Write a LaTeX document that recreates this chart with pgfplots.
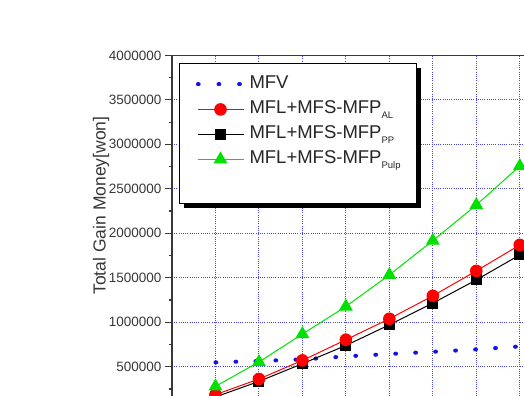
\documentclass[border=0pt]{standalone}
\usepackage{pgfplots}
\pgfplotsset{compat=1.18}
\usepackage{pgfplotstable}
\usepackage{fontspec}
\setmainfont{Liberation Sans}
\definecolor{gridblue}{RGB}{70,70,235}
\definecolor{mfvblue}{RGB}{20,20,230}
\definecolor{myred}{RGB}{255,0,0}
\definecolor{mygreen}{RGB}{0,225,0}
\definecolor{axgray}{RGB}{55,55,55}
\newcommand\sub[1]{\raisebox{-5bp}{\fontsize{9.5bp}{10bp}\selectfont #1}}
\pgfplotstableread{
x MFV AL PP Pulp
1 549000 186000 160000 279000
2 564000 362000 335000 553000
3 582000 571000 534000 867000
4 616000 803000 739000 1177000
5 643000 1039000 971000 1532000
6 668000 1297000 1215000 1917000
7 695000 1577000 1476000 2318000
8 728000 1869000 1757000 2755000
}\datatable
\begin{document}
\begin{tikzpicture}
\useasboundingbox (0,0) rectangle (524bp,396bp);
\clip (0,0) rectangle (524bp,396bp);
\begin{axis}[
 at={(172bp,-15.2bp)}, anchor=south west,
 scale only axis, width=434.7bp, height=355.8bp,
 xmin=0, xmax=10, ymin=0, ymax=4000000,
 xtick={0,...,10}, ytick={500000,1000000,...,4000000},
 minor ytick={250000,750000,...,3750000},
 xticklabels={},
 scaled y ticks=false,
 /pgf/number format/assume math mode=true,
 yticklabel={\pgfmathprintnumber[fixed,1000 sep={},precision=0]{\tick}},
 tick label style={font=\fontsize{13.5bp}{14bp}\selectfont, text=axgray},
 grid=major,
 major grid style={gridblue, line width=0.9bp, dash pattern=on 0.9bp off 1.3bp},
 axis line style={axgray, line width=1.6bp},
 tick style={axgray, line width=1.2bp},
 major tick length=7bp, minor tick length=3.5bp,
 tick align=outside, tick pos=left,
 ylabel={Total Gain Money[won]},
 ylabel style={at={(axis description cs:-0.1633,0.578)}, anchor=center, font=\fontsize{17.5bp}{18bp}\selectfont, text=axgray},
 legend style={at={(axis description cs:0.0168,0.978)}, anchor=north west,
   draw=none, fill=none,
   font=\fontsize{18.5bp}{20bp}\selectfont, text=black!85,
   inner xsep=16bp, inner ysep=13bp,
   nodes={inner sep=0pt, text height=12.5bp, text depth=3.5bp},
   row sep=9bp, column sep=4bp},
 legend cell align=left,
 legend image code/.code={\draw[mark repeat=2,mark phase=2,#1] plot coordinates {(0bp,0bp) (23bp,0bp) (46bp,0bp)};},
]
\addlegendimage{mfvblue, line width=4bp, line cap=round, dash pattern=on 0.8bp off 19.8bp, dash phase=-0.4bp}
\addlegendentry{MFV}
\addlegendimage{myred, line width=1bp, mark=*, mark size=5.8bp, mark options={solid, fill=myred}}
\addlegendentry{MFL+MFS-MFP\sub{AL}}
\addlegendimage{black, line width=1bp, mark=square*, mark size=5bp, mark options={solid, fill=black}}
\addlegendentry{MFL+MFS-MFP\sub{PP}}
\addlegendimage{mygreen, line width=1bp, mark=triangle*, mark size=7bp, mark options={solid, fill=mygreen}}
\addlegendentry{MFL+MFS-MFP\sub{Pulp}}
\addplot[forget plot, mfvblue, line width=4bp, line cap=round, dash pattern=on 0.8bp off 19.2bp] table[x=x,y=MFV]{\datatable};
\addplot[forget plot, black, line width=1bp, mark=square*, mark size=5bp, mark options={solid, fill=black}] table[x=x,y=PP]{\datatable};
\addplot[forget plot, myred, line width=1bp, mark=*, mark size=5.8bp, mark options={solid, fill=myred}] table[x=x,y=AL]{\datatable};
\addplot[forget plot, mygreen, line width=1bp, mark=triangle*, mark size=7bp, mark options={solid, fill=mygreen}] table[x=x,y=Pulp]{\datatable};
\fill[black] ([xshift=4.5bp,yshift=-4.5bp]axis description cs:0.0168,0.5843) rectangle ([xshift=4.5bp,yshift=-4.5bp]axis description cs:0.5629,0.9778);
\draw[black, line width=1.3bp, fill=white] (axis description cs:0.0168,0.5843) rectangle (axis description cs:0.5629,0.9778);
\end{axis}
\end{tikzpicture}
\end{document}
